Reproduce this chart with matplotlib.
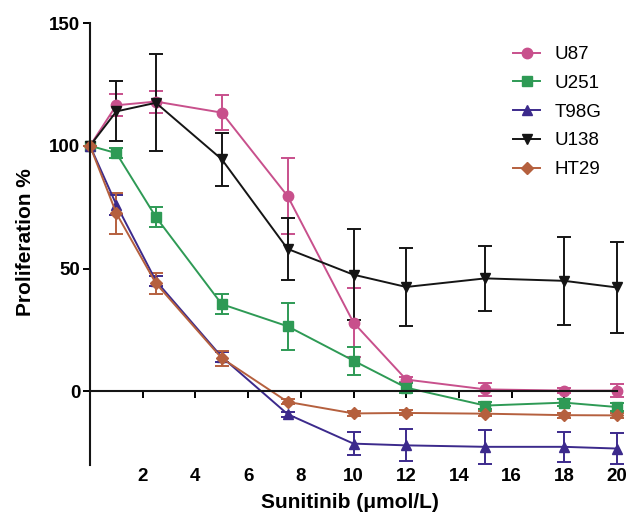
import matplotlib
matplotlib.use("Agg")
import matplotlib.pyplot as plt

plt.rcParams['font.family'] = ['Liberation Sans', 'DejaVu Sans']

# Data
conc = [0, 1, 2.5, 5, 7.5, 10, 12, 15, 18, 20]
series_names = ["U87", "U251", "T98G", "U138", "HT29"]
u87 = [100, 116.5, 118, 113.5, 79.5, 28, 4.8, 0.8, 0.3, 0.3]
u87_err = [0, 4.5, 4.5, 7, 15.5, 14, 1, 2.7, 1, 2.7]
u251 = [100, 97, 71, 35.5, 26.5, 12.5, 1.5, -5.8, -4.6, -6.4]
u251_err = [0, 2, 4, 4, 9.6, 5.7, 2, 1.5, 1.5, 1.5]
t98g = [100, 76, 45, 14, -9.3, -21.3, -22, -22.6, -22.6, -23.3]
t98g_err = [0, 4, 2, 2, 1, 4.7, 6.5, 6.8, 6, 6.3]
u138 = [100, 114, 117.5, 94.5, 58, 47.5, 42.5, 46, 45, 42.3]
u138_err = [0, 12.2, 19.7, 10.8, 12.5, 18.6, 16, 13.2, 17.8, 18.5]
ht29 = [100, 72.5, 44, 13.5, -4.3, -9, -8.8, -9.1, -9.7, -9.8]
ht29_err = [0, 8.4, 4.2, 3, 1, 1, 1, 1, 1, 1]
xticks = [2, 4, 6, 8, 10, 12, 14, 16, 18, 20]
yticks = [0, 50, 100, 150]

values = [u87, u251, t98g, u138, ht29]
errors = [u87_err, u251_err, t98g_err, u138_err, ht29_err]
colors = ["#C8508C", "#2E9A55", "#3C2A8C", "#151515", "#B5603E"]
markers = ["o", "s", "^", "v", "D"]
msizes = [7.5, 7, 7, 7, 6.5]

fig = plt.figure(figsize=(6.29, 5.16), dpi=100)
W, H = 629, 516
x0, x1 = 90, 617
y_top, y_bot = 23, 465
ax = fig.add_axes([x0 / W, (H - y_bot) / H, (x1 - x0) / W, (y_bot - y_top) / H])

handles = []
for name, v, e, c, m, ms in zip(series_names, values, errors, colors, markers, msizes):
    cont = ax.errorbar(conc, v, yerr=e, color=c, marker=m, markersize=ms, lw=1.4,
                       elinewidth=1.4, capsize=4.8, capthick=1.4, label=name,
                       clip_on=False)
    handles.append(cont[0])

ax.set_xlim(0, 20)
ax.set_ylim(-30, 150)
ax.spines['top'].set_visible(False)
ax.spines['right'].set_visible(False)
ax.spines['bottom'].set_position(('data', 0))
ax.spines['bottom'].set_linewidth(1.5)
ax.spines['left'].set_linewidth(1.5)
ax.spines['bottom'].set_color('#151515')
ax.spines['left'].set_color('#151515')

ax.set_xticks(xticks)
ax.set_xticklabels([str(t) for t in xticks])
ax.set_yticks(yticks)
ax.set_yticklabels([str(t) for t in yticks])
ax.tick_params(axis='x', direction='out', length=5, width=1.4, pad=50,
               labelsize=13.5)
ax.tick_params(axis='y', direction='out', length=5, width=1.4, pad=2,
               labelsize=13.5)
for lab in ax.get_xticklabels() + ax.get_yticklabels():
    lab.set_fontweight('bold')

ax.set_xlabel("Sunitinib (\u03bcmol/L)", fontsize=15, fontweight='bold')
ax.set_ylabel("Proliferation %", fontsize=15, fontweight='bold')
ax.xaxis.set_label_coords((350 - x0) / (x1 - x0), (y_bot - 493) / (y_bot - y_top))
ax.yaxis.set_label_coords((35 - x0) / (x1 - x0), (y_bot - 242) / (y_bot - y_top))

leg = ax.legend(handles=handles, labels=series_names,
                loc='upper left', bbox_to_anchor=(513 / W, (H - 46) / H),
                bbox_transform=fig.transFigure, frameon=False, fontsize=13.5,
                handlelength=1.45, handletextpad=0.75, labelspacing=0.62,
                borderpad=0, borderaxespad=0)

fig.savefig("out.png", dpi=100)
